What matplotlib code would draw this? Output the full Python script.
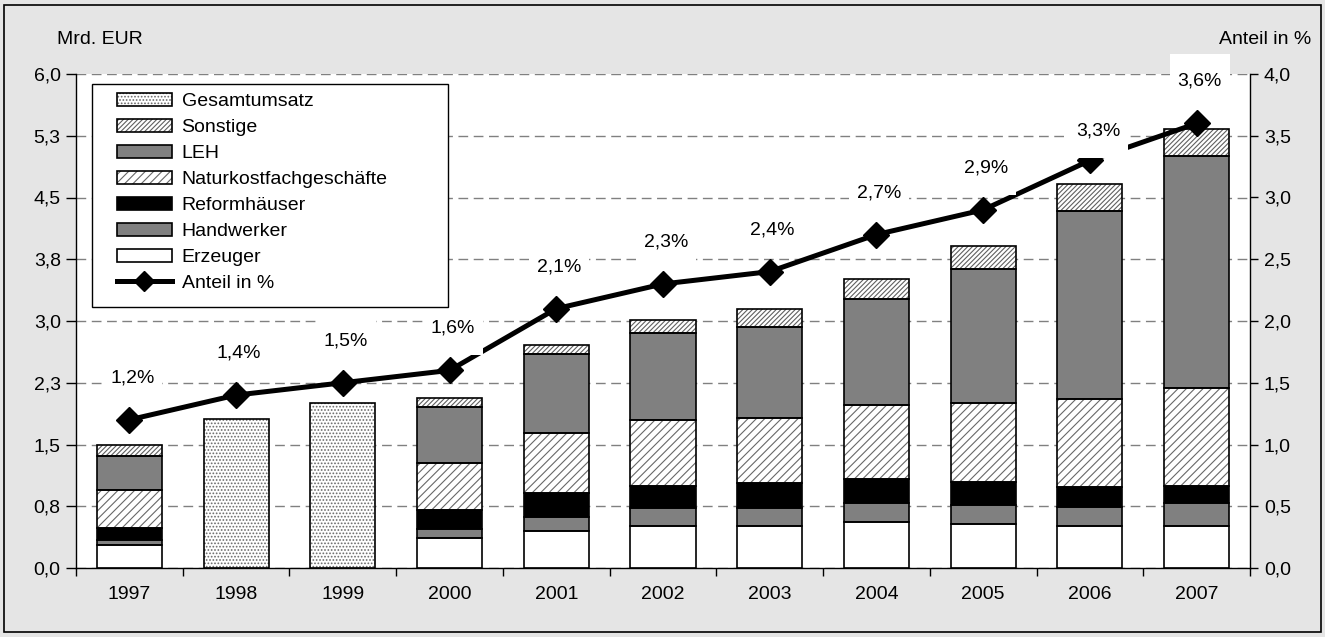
import numpy as np
import matplotlib
matplotlib.use('Agg')
import matplotlib.pyplot as plt
from matplotlib.patches import Patch, Rectangle
from matplotlib.lines import Line2D
from matplotlib.legend_handler import HandlerTuple
from matplotlib.path import Path

plt.rcParams['font.family'] = ['Liberation Sans', 'DejaVu Sans']
plt.rcParams['hatch.linewidth'] = 0.8

# ---------------- data ----------------
years = ['1997', '1998', '1999', '2000', '2001', '2002', '2003', '2004', '2005', '2006', '2007']
erzeuger      = [0.28, 0, 0, 0.36, 0.45, 0.51, 0.51, 0.56, 0.53, 0.51, 0.51]
handwerker    = [0.06, 0, 0, 0.11, 0.17, 0.22, 0.22, 0.23, 0.23, 0.23, 0.28]
reformhaeuser = [0.15, 0, 0, 0.23, 0.29, 0.27, 0.30, 0.29, 0.28, 0.24, 0.21]
naturkost     = [0.46, 0, 0, 0.58, 0.73, 0.80, 0.79, 0.90, 0.97, 1.07, 1.19]
leh           = [0.41, 0, 0, 0.68, 0.96, 1.06, 1.11, 1.29, 1.62, 2.28, 2.81]
sonstige      = [0.13, 0, 0, 0.10, 0.11, 0.15, 0.21, 0.24, 0.28, 0.33, 0.33]
gesamtumsatz  = [0, 1.81, 2.01, 0, 0, 0, 0, 0, 0, 0, 0]
anteil        = [1.2, 1.4, 1.5, 1.6, 2.1, 2.3, 2.4, 2.7, 2.9, 3.3, 3.6]
left_ticklabels  = ['0,0', '0,8', '1,5', '2,3', '3,0', '3,8', '4,5', '5,3', '6,0']
right_ticklabels = ['0,0', '0,5', '1,0', '1,5', '2,0', '2,5', '3,0', '3,5', '4,0']

FS = 14

# ---------------- figure ----------------
W, H = 1325, 637
fig = plt.figure(figsize=(W / 100, H / 100), dpi=100)
fig.patch.set_facecolor('#e5e5e5')
fig.add_artist(Rectangle((4 / W, 5 / H), 1 - 8 / W, 1 - 10 / H, transform=fig.transFigure,
                         fill=False, edgecolor='black', linewidth=1.2))

ax = fig.add_axes([76 / W, 69 / H, 1174 / W, 494 / H])
ax.set_facecolor('white')
x = np.arange(len(years))
width = 0.61
GRAY = '#808080'

# stacked series: label, values, facecolor, hatch, hatchcolor
stack = [
    ('Erzeuger', erzeuger, 'white', None, None),
    ('Handwerker', handwerker, GRAY, None, None),
    ('Reformhäuser', reformhaeuser, 'black', None, None),
    ('Naturkostfachgeschäfte', naturkost, 'white', '////', '#686868'),
    ('LEH', leh, GRAY, None, None),
    ('Sonstige', sonstige, 'white', '///////', '#606060'),
]
ges_style = ('Gesamtumsatz', gesamtumsatz, 'white', '.....', '#6a6a6a')


def draw_bars(xs, h, b, fc, hatch, hc):
    if hatch:
        ax.bar(xs, h, width, bottom=b, color=fc, edgecolor=hc, hatch=hatch,
               linewidth=0, zorder=2)
    else:
        ax.bar(xs, h, width, bottom=b, color=fc, linewidth=0, zorder=2)
    ax.bar(xs, h, width, bottom=b, fill=False, edgecolor='black', linewidth=1.2, zorder=3)


bottom = np.zeros(len(years))
for label, vals, fc, hatch, hc in stack:
    v = np.array(vals, dtype=float)
    m = v > 0
    draw_bars(x[m], v[m], bottom[m], fc, hatch, hc)
    bottom += v

g = np.array(gesamtumsatz, dtype=float)
m = g > 0
draw_bars(x[m], g[m], np.zeros(m.sum()), ges_style[2], ges_style[3], ges_style[4])

# axes formatting
ax.set_xlim(-0.5, len(years) - 0.5)
ax.set_ylim(0, 6)
ax.set_yticks(np.linspace(0, 6, 9))
ax.set_yticklabels(left_ticklabels)
ax.tick_params(axis='y', direction='out', length=7, width=1, pad=4, labelsize=FS)
ax.set_xticks(x)
ax.set_xticklabels(years)
ax.set_xticks(np.arange(-0.5, len(years), 1), minor=True)
ax.tick_params(axis='x', which='major', length=0, pad=13, labelsize=FS)
ax.tick_params(axis='x', which='minor', length=6, width=1, direction='out')
ax.set_axisbelow(True)
ax.grid(axis='y', color=GRAY, linestyle=(0, (7, 4)), linewidth=1)
ax.spines['top'].set_visible(False)
ax.spines['right'].set_visible(False)
ax.spines['left'].set_linewidth(1)
ax.spines['bottom'].set_linewidth(1)

ax2 = ax.twinx()
ax2.set_ylim(0, 4)
ax2.set_yticks(np.linspace(0, 4, 9))
ax2.set_yticklabels(right_ticklabels)
ax2.tick_params(axis='y', direction='out', length=6, width=1, pad=4, labelsize=FS)
for s in ['top', 'left', 'bottom']:
    ax2.spines[s].set_visible(False)
ax2.spines['right'].set_linewidth(1)

ax2.plot(x, anteil, color='black', linewidth=3.6, marker='D', markersize=13, zorder=4,
         solid_joinstyle='miter')


def label_box(x0, y0, width, height, mutation_size):
    px = 0.4 * mutation_size
    py = 0.95 * mutation_size
    verts = [(x0 - px, y0 - py), (x0 + width + px, y0 - py),
             (x0 + width + px, y0 + height + py), (x0 - px, y0 + height + py),
             (x0 - px, y0 - py)]
    return Path(verts, closed=True)


for i, v in enumerate(anteil):
    dx, dy = (8, 29) if i == 9 else (3, 42)
    ax2.annotate(f'{v:.1f}%'.replace('.', ','), xy=(i, v), xytext=(dx, dy),
                 textcoords='offset pixels', ha='center', va='center', fontsize=FS,
                 zorder=6, annotation_clip=False,
                 bbox=dict(boxstyle=label_box, facecolor='white', edgecolor='none'))

# legend
def swatch(fc, hatch=None, hc=None):
    if hatch:
        return (Patch(facecolor=fc, edgecolor=hc, hatch=hatch, linewidth=0),
                Patch(facecolor='none', edgecolor='black', linewidth=1.2))
    return (Patch(facecolor=fc, edgecolor='black', linewidth=1.2),)

lookup = {s[0]: s for s in stack}
order = ['Sonstige', 'LEH', 'Naturkostfachgeschäfte', 'Reformhäuser', 'Handwerker', 'Erzeuger']
handles = [swatch(ges_style[2], ges_style[3], ges_style[4])]
labels = [ges_style[0]]
for name in order:
    _, _, fc, hatch, hc = lookup[name]
    handles.append(swatch(fc, hatch, hc))
    labels.append(name)
handles.append((Line2D([], [], color='black', linewidth=3.6, marker='D', markersize=10),))
labels.append('Anteil in %')

leg = ax2.legend(handles, labels, loc='upper left', bbox_to_anchor=(0.0273, 0.9798),
                 borderaxespad=0, frameon=True, fancybox=False, edgecolor='black',
                 framealpha=1, fontsize=FS, handlelength=2.83, handleheight=0.67,
                 handletextpad=0.5, labelspacing=0.44, borderpad=0.45,
                 handler_map={tuple: HandlerTuple(ndivide=1, pad=0)})
leg.get_frame().set_linewidth(1.0)


def frame_box(x0, y0, width, height, mutation_size):
    pl = 0.85 * mutation_size
    pr = 2.65 * mutation_size
    pb = 0.3 * mutation_size
    verts = [(x0 - pl, y0 - pb), (x0 + width + pr, y0 - pb), (x0 + width + pr, y0 + height),
             (x0 - pl, y0 + height), (x0 - pl, y0 - pb)]
    return Path(verts, closed=True)

leg.get_frame().set_boxstyle(frame_box)
leg.set_zorder(7)

fig.text(57 / W, 1 - 39 / H, 'Mrd. EUR', ha='left', va='center', fontsize=FS)
fig.text(1311 / W, 1 - 39 / H, 'Anteil in %', ha='right', va='center', fontsize=FS)

fig.savefig('out.png', dpi=100, facecolor=fig.get_facecolor())
